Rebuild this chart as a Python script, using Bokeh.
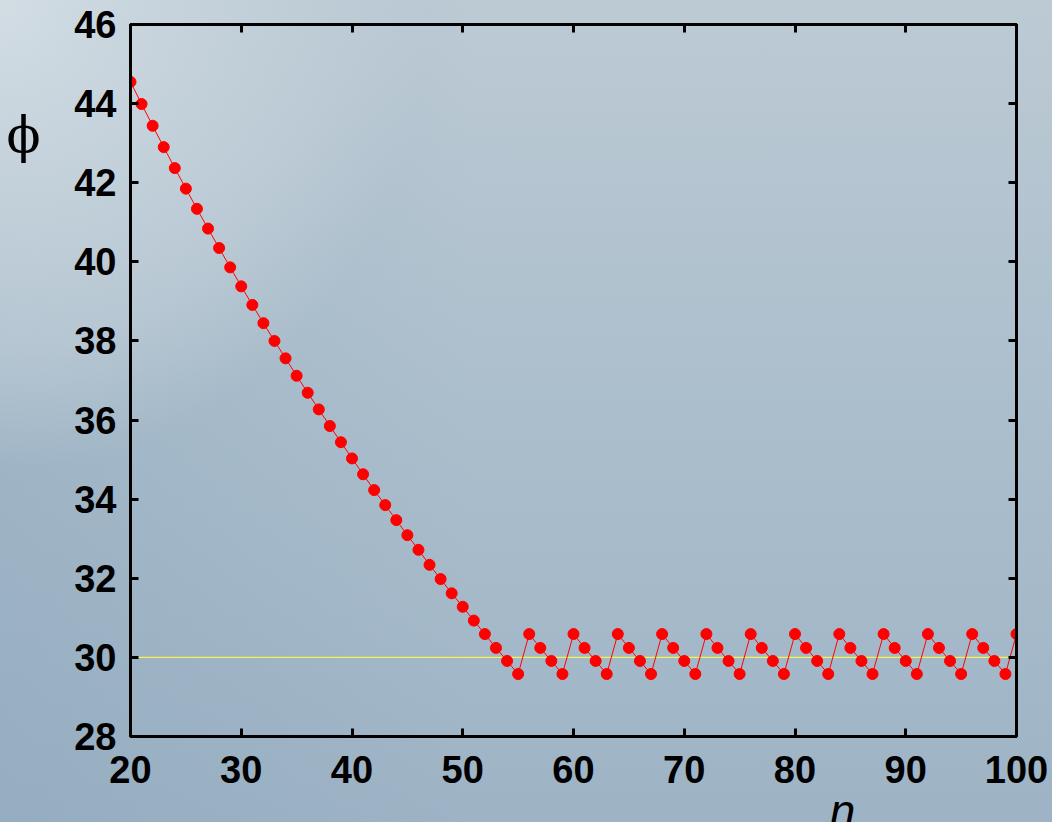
from bokeh.plotting import figure
from bokeh.models import Range1d, FixedTicker, LinearAxis, Span
from bokeh.embed import file_html
from bokeh.resources import INLINE

# ---- data ----
n_values = list(range(20, 101))
phi_values = [
    44.55, 43.99, 43.44, 42.90, 42.37, 41.85, 41.34, 40.84, 40.35, 39.86,  # 20-29
    39.38, 38.91, 38.45, 38.00, 37.56, 37.12, 36.69, 36.27, 35.85, 35.44,  # 30-39
    35.03, 34.63, 34.23, 33.85, 33.47, 33.09, 32.72, 32.34, 31.98, 31.62,  # 40-49
    31.28, 30.93, 30.59, 30.24, 29.91, 29.58, 30.59, 30.24, 29.91, 29.58,  # 50-59
    30.59, 30.24, 29.91, 29.58, 30.59, 30.24, 29.91, 29.58, 30.59, 30.24,  # 60-69
    29.91, 29.58, 30.59, 30.24, 29.91, 29.58, 30.59, 30.24, 29.91, 29.58,  # 70-79
    30.59, 30.24, 29.91, 29.58, 30.59, 30.24, 29.91, 29.58, 30.59, 30.24,  # 80-89
    29.91, 29.58, 30.59, 30.24, 29.91, 29.58, 30.59, 30.24, 29.91, 29.58,  # 90-99
    30.59,                                                                 # 100
]
x_ticks = [20, 30, 40, 50, 60, 70, 80, 90, 100]
y_ticks = [28, 30, 32, 34, 36, 38, 40, 42, 44, 46]
ref_level = 30
x_label = "n"
y_label = "\u03d5"
x_label_at = 84.3    # where the axis titles sit along their axes
y_label_at = 43.2

FONT = "Liberation Sans"

bg = ("radial-gradient(ellipse 430px 470px at 0% 0%, rgba(214,224,230,0.9) 0%, "
      "rgba(196,209,218,0.55) 75%, rgba(196,209,218,0) 100%), "
      "linear-gradient(to right, rgba(125,155,180,0.25) 0%, rgba(125,155,180,0) 45%), "
      "linear-gradient(to bottom, #bccad4 0%, #abbecc 50%, #9db3c5 100%)")

p = figure(
    frame_width=886, frame_height=712,
    x_range=Range1d(20, 100), y_range=Range1d(28, 46),
    output_backend="svg", toolbar_location=None,
    min_border_left=130, min_border_right=36, min_border_top=24, min_border_bottom=86,
    styles={"background": bg},
)
p.border_fill_alpha = 0
p.background_fill_alpha = 0
p.outline_line_color = "black"
p.outline_line_width = 3
p.xgrid.visible = False
p.ygrid.visible = False

def style_axis(ax, ticks, show_labels=True, standoff=12):
    ax.ticker = FixedTicker(ticks=ticks)
    ax.axis_line_color = "black"
    ax.axis_line_width = 3
    ax.major_tick_in = 8
    ax.major_tick_out = 0
    ax.major_tick_line_width = 3
    ax.major_tick_line_color = "black"
    ax.minor_tick_line_color = None
    ax.major_label_text_font = FONT
    ax.major_label_text_font_style = "bold"
    ax.major_label_text_font_size = "38px"
    ax.major_label_text_color = "black"
    ax.major_label_standoff = standoff
    if not show_labels:
        ax.major_label_overrides = {t: "" for t in ticks}
        ax.major_label_standoff = 0

style_axis(p.xaxis[0], x_ticks, True, 19)
style_axis(p.yaxis[0], y_ticks, True, 14)

top_ax = LinearAxis()
style_axis(top_ax, x_ticks, False)
p.add_layout(top_ax, "above")
right_ax = LinearAxis()
style_axis(right_ax, y_ticks, False)
p.add_layout(right_ax, "right")

# axis titles carried as a single tick label on line-less, tick-less axes
phi_ax = LinearAxis(
    ticker=FixedTicker(ticks=[y_label_at]), major_label_overrides={y_label_at: y_label},
    axis_line_color=None, major_tick_line_color=None, minor_tick_line_color=None,
    major_label_text_font="DejaVu Serif", major_label_text_font_style="normal",
    major_label_text_font_size="50px", major_label_text_color="black",
    major_label_standoff=25,
)
p.add_layout(phi_ax, "left")
n_ax = LinearAxis(
    ticker=FixedTicker(ticks=[x_label_at]), major_label_overrides={x_label_at: x_label},
    axis_line_color=None, major_tick_line_color=None, minor_tick_line_color=None,
    major_label_text_font=FONT, major_label_text_font_style="italic",
    major_label_text_font_size="46px", major_label_text_color="black",
    major_label_standoff=-7,
)
p.add_layout(n_ax, "below")

p.add_layout(Span(location=ref_level, dimension="width", line_color="#f4f450",
                  line_width=1.2, level="underlay"))

p.line(n_values, phi_values, line_color="red", line_width=1)
p.scatter(n_values, phi_values, size=11, fill_color="red", line_color="red")

open("out.html", "w").write(file_html(p, INLINE))
